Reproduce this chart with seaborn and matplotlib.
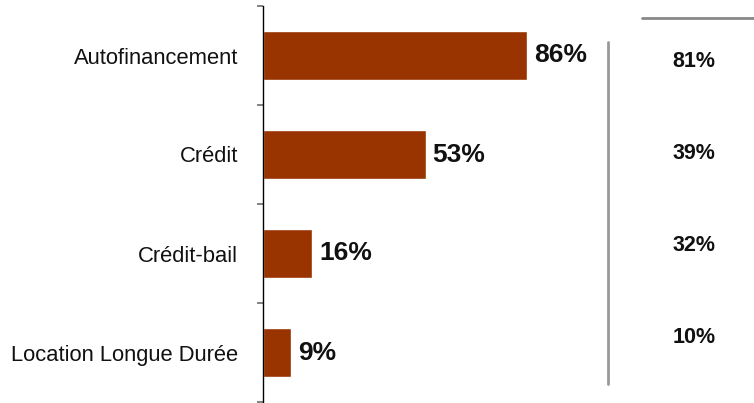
import numpy as np
import pandas as pd
import matplotlib.pyplot as plt
import seaborn as sns
from matplotlib.ticker import FixedLocator

sns.set_style('white')
plt.rcParams['font.family'] = ['Liberation Sans', 'DejaVu Sans']

#%% DATA
categories = ['Autofinancement', 'Crédit', 'Crédit-bail', 'Location Longue Durée']
values = [86, 53, 16, 9]
compare_values = [81, 39, 32, 10]
bar_color = '#993300'

df = pd.DataFrame({'categorie': categories, 'part': values})

#%% PLOT
fig = plt.figure(figsize=(7.54, 4.03), dpi=100)
ax = fig.add_axes([263 / 754, 1 / 403, 491 / 754, 396 / 403])

sns.barplot(data=df, x='part', y='categorie', orient='h', color=bar_color,
            width=0.5, saturation=1, ax=ax)

ax.set_xlim(0, 160)
ax.set_ylim(len(categories) - 0.5, -0.5)
ax.set_xlabel('')
ax.set_ylabel('')
ax.set_xticks([])

for side in ['top', 'right', 'bottom']:
    ax.spines[side].set_visible(False)
ax.spines['left'].set_color('black')
ax.spines['left'].set_linewidth(1)

# category labels without tick marks, tick marks at boundaries
ax.tick_params(axis='y', which='major', length=0, pad=18, labelsize=15.8, labelcolor='#111111')
ax.yaxis.set_minor_locator(FixedLocator(np.arange(-0.5, len(categories), 1)))
ax.tick_params(axis='y', which='minor', length=4.5, width=1.3, color='#777777', left=True)

# bar value labels
for i, v in enumerate(values):
    ax.text(v + 2.3, i + 0.0, f'{v}%', va='center', ha='left',
            fontsize=19, fontweight='bold', color='#111111')

# comparison column
for i, v in enumerate(compare_values):
    ax.text(0.878, i * 0.93 + 0.06, f'{v}%', transform=ax.get_yaxis_transform(),
            va='center', ha='center', fontsize=15.5, fontweight='bold', color='#111111')

ax.plot([0.7026, 0.7026], [0.0455, 0.909], transform=ax.transAxes,
        color='#999999', lw=2, clip_on=False)
ax.plot([0.772, 1.0], [0.9697, 0.9697], transform=ax.transAxes,
        color='#888888', lw=2, clip_on=False)

plt.savefig('out.png', dpi=100)
plt.close()
